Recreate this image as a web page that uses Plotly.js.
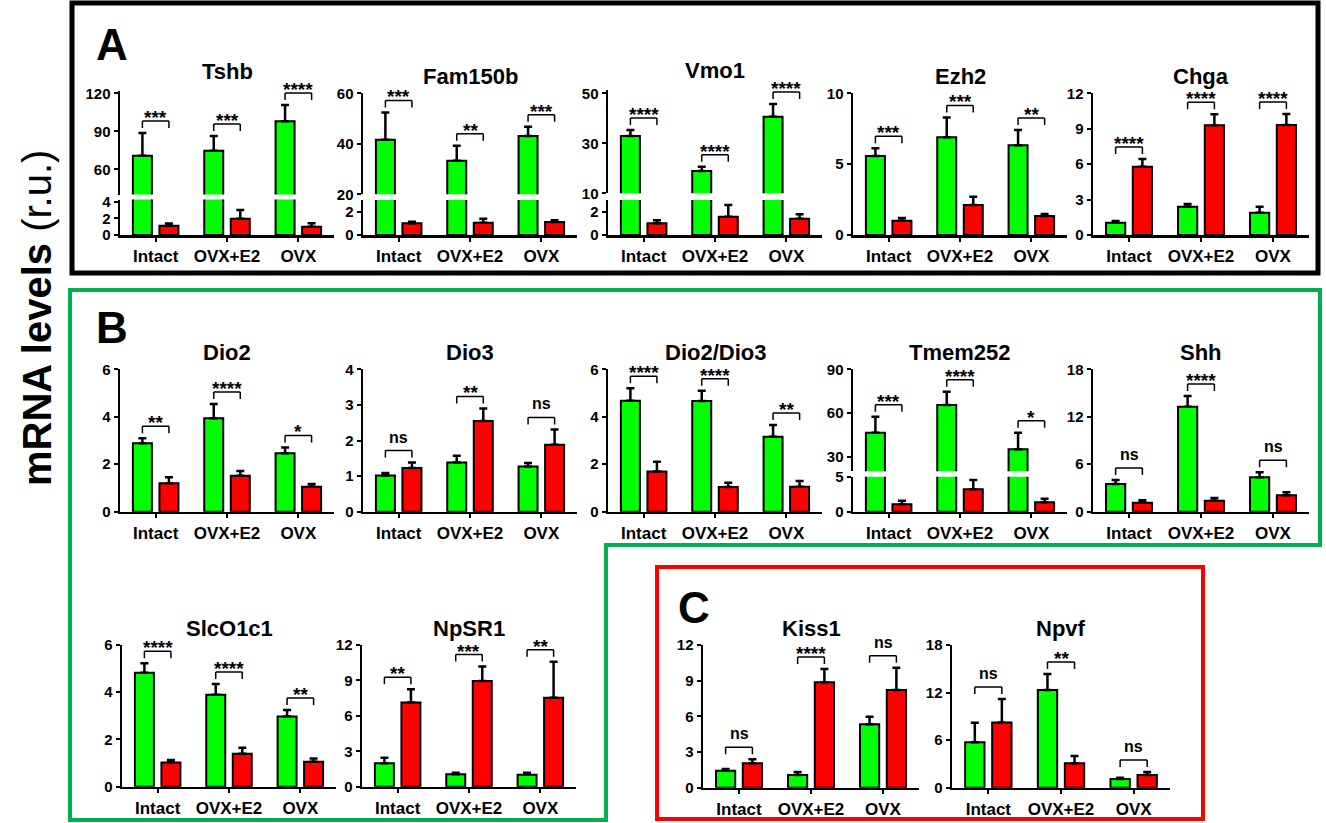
<!DOCTYPE html>
<html><head><meta charset="utf-8">
<script src="https://cdn.plot.ly/plotly-3.0.1.min.js"></script>
<style>html,body{margin:0;padding:0;background:#fff}</style>
</head><body><div id="chart" style="width:1326px;height:823px"></div>
<script>
// ---------------- DATA ----------------
const groups = ['Intact', 'OVX+E2', 'OVX'];
const genes = ['Tshb','Fam150b','Vmo1','Ezh2','Chga','Dio2','Dio3','Dio2/Dio3','Tmem252','Shh','SlcO1c1','NpSR1','Kiss1','Npvf'];
const greenMean = [
  [70.7, 74.7, 97.9],
  [41.6, 33.3, 43.1],
  [32.9, 18.9, 40.6],
  [5.58, 6.9, 6.33],
  [1.04, 2.4, 1.89],
  [2.88, 3.94, 2.46],
  [1.02, 1.38, 1.27],
  [4.68, 4.66, 3.16],
  [46.5, 65.5, 35.1],
  [3.5, 13.27, 4.35],
  [4.83, 3.89, 2.97],
  [1.98, 1.05, 1.02],
  [1.43, 1.07, 5.33],
  [5.72, 12.32, 1.1]
];
const greenErr = [
  [18, 11.6, 12.9],
  [10.8, 5.9, 3.7],
  [2.4, 1.7, 5.1],
  [0.54, 1.4, 1.08],
  [0.15, 0.23, 0.51],
  [0.21, 0.6, 0.25],
  [0.07, 0.19, 0.1],
  [0.52, 0.44, 0.49],
  [11, 9.1, 11.4],
  [0.5, 1.36, 0.63],
  [0.4, 0.46, 0.28],
  [0.48, 0.14, 0.17],
  [0.14, 0.25, 0.64],
  [2.48, 2.02, 0.16]
];
const redMean = [
  [1.1, 1.96, 1.0],
  [1.0, 1.06, 1.11],
  [1.0, 1.57, 1.4],
  [1.01, 2.12, 1.34],
  [5.79, 9.3, 9.32],
  [1.2, 1.52, 1.05],
  [1.23, 2.55, 1.88],
  [1.69, 1.04, 1.05],
  [1.06, 3.2, 1.34],
  [1.14, 1.39, 2.07],
  [1.02, 1.39, 1.06],
  [7.12, 8.96, 7.54],
  [2.05, 8.86, 8.21],
  [8.24, 3.07, 1.6]
];
const redErr = [
  [0.28, 1.04, 0.4],
  [0.14, 0.34, 0.15],
  [0.26, 1.0, 0.37],
  [0.19, 0.58, 0.14],
  [0.65, 0.93, 0.93],
  [0.25, 0.2, 0.12],
  [0.15, 0.35, 0.43],
  [0.41, 0.18, 0.24],
  [0.5, 1.33, 0.52],
  [0.3, 0.34, 0.38],
  [0.11, 0.26, 0.13],
  [1.13, 1.21, 3.05],
  [0.34, 1.12, 1.87],
  [2.94, 0.93, 0.38]
];
const sigLabels = [
  ['***', '***', '****'],
  ['***', '**', '***'],
  ['****', '****', '****'],
  ['***', '***', '**'],
  ['****', '****', '****'],
  ['**', '****', '*'],
  ['ns', '**', 'ns'],
  ['****', '****', '**'],
  ['***', '****', '*'],
  ['ns', '****', 'ns'],
  ['****', '****', '**'],
  ['**', '***', '**'],
  ['ns', '****', 'ns'],
  ['ns', '**', 'ns']
];
const yTickMax = [120, 60, 50, 10, 12, 6, 4, 6, 90, 18, 6, 12, 12, 18];
const yTickStep = [30, 20, 20, 5, 3, 2, 1, 2, 30, 6, 2, 3, 3, 6];

// ---------------- LAYOUT CONFIG (pixels) ----------------
const W = 1326, H = 823;
const FONT = 'Liberation Sans, Arial, Helvetica, sans-serif';
const GREEN = '#00ff00', RED = '#ff0000';
// x0 / width of each plot area, top / bottom pixel rows; brk = broken axis; pad = extra px above top tick
const cells = [
  {x0:120, w:214, top:93.3, bottom:235, pad:2.5, brk:{lowMax:4.26, lowTop:199.5, lowStep:2, upMin:40, upBottom:194.6, tick0:0}},
  {x0:363, w:214, top:93.3, bottom:235, brk:{lowMax:3, lowTop:200, lowStep:2, upMin:20, upBottom:194.3, tick0:0}},
  {x0:608, w:214, top:93.3, bottom:235, pad:3, brk:{lowMax:3, lowTop:200, lowStep:2, upMin:10, upBottom:193.3, tick0:10}},
  {x0:853, w:214, top:93.3, bottom:235},
  {x0:1093, w:216, top:93.3, bottom:235},
  {x0:120, w:214, top:369.3, bottom:511.7},
  {x0:363, w:214, top:369.3, bottom:511.7},
  {x0:608, w:214, top:369.3, bottom:511.7},
  {x0:853, w:214, top:369.3, bottom:511.7, brk:{lowMax:5, lowTop:476.7, lowStep:5, upMin:20, upBottom:471.3, tick0:0}},
  {x0:1093, w:216, top:369.3, bottom:511.7},
  {x0:122, w:214, top:645, bottom:786.7},
  {x0:362, w:214, top:645, bottom:786.7},
  {x0:703, w:216, top:645, bottom:787.7},
  {x0:952, w:218, top:645, bottom:787.7}
];

const px = x => x / W;
const py = y => 1 - y / H;

const data = [];
const layout = {
  width: W, height: H,
  margin: {l:0, r:0, t:0, b:0},
  paper_bgcolor: '#fff', plot_bgcolor: 'rgba(0,0,0,0)',
  showlegend: false,
  barmode: 'group',
  bargap: 0.256,
  bargroupgap: 0.284,
  font: {family: FONT, color: '#000'},
  shapes: [],
  annotations: []
};

const axisCommon = {
  showline: true, linecolor: '#000', linewidth: 2.5,
  ticks: 'outside', ticklen: 4, tickwidth: 2, tickcolor: '#000',
  showgrid: false, zeroline: false, fixedrange: true
};

let yCount = 0;
function nextY() { yCount++; return yCount; }
function axName(prefix, n) { return prefix + (n === 1 ? '' : n); }

const slotHalf = 0.186; // half distance between green & red bar centres (category units)

cells.forEach((c, i) => {
  const xn = i + 1;
  const xId = axName('x', xn);
  const xKey = axName('xaxis', xn);
  const lowN = nextY();
  const lowId = axName('y', lowN);
  const lowKey = axName('yaxis', lowN);
  const yAxes = [];
  const pad = c.pad || 0;

  layout[xKey] = Object.assign({}, axisCommon, {
    domain: [px(c.x0), px(c.x0 + c.w)],
    anchor: lowId, type: 'category', range: [-0.5, 2.5],
    tickangle: 0,
    tickfont: {family: FONT, size: 17, weight: 'bold', color: '#000'}
  });

  const yTickFont = {family: FONT, size: 15, weight: 'bold', color: '#000'};
  if (c.brk) {
    const b = c.brk;
    layout[lowKey] = Object.assign({}, axisCommon, {
      domain: [py(c.bottom), py(b.lowTop)], anchor: xId,
      range: [0, b.lowMax], tick0: 0, dtick: b.lowStep, tickfont: yTickFont
    });
    const upN = nextY();
    const upId = axName('y', upN);
    const upKey = axName('yaxis', upN);
    const pxPerUnit = (b.upBottom - c.top) / (yTickMax[i] - b.upMin);
    layout[upKey] = Object.assign({}, axisCommon, {
      domain: [py(b.upBottom), py(c.top - pad)], anchor: xId,
      range: [b.upMin, yTickMax[i] + pad / pxPerUnit], tick0: b.tick0, dtick: yTickStep[i], tickfont: yTickFont
    });
    yAxes.push({id: lowId, max: b.lowMax}, {id: upId, max: Infinity});
  } else {
    layout[lowKey] = Object.assign({}, axisCommon, {
      domain: [py(c.bottom), py(c.top)], anchor: xId,
      range: [0, yTickMax[i]], tick0: 0, dtick: yTickStep[i], tickfont: yTickFont
    });
    yAxes.push({id: lowId, max: Infinity});
  }

  yAxes.forEach(ya => {
    [[greenMean, greenErr, GREEN, 'Green'], [redMean, redErr, RED, 'Red']].forEach(([m, e, col, nm]) => {
      data.push({
        type: 'bar', x: groups, y: m[i], name: nm + ' ' + genes[i],
        xaxis: xId, yaxis: ya.id,
        marker: {color: col, line: {color: '#000', width: 2}},
        error_y: {type: 'data', symmetric: false, array: e[i], arrayminus: e[i].map(() => 0),
                  color: '#000', thickness: 2.5, width: 4},
        hoverinfo: 'y'
      });
    });
  });

  // title
  const topAxisId = yAxes[yAxes.length - 1].id;
  layout.annotations.push({
    text: genes[i], xref: xId + ' domain', yref: topAxisId + ' domain',
    x: 0.5, y: 1, xanchor: 'center', yanchor: 'middle', yshift: 17 + pad, showarrow: false,
    font: {family: FONT, size: 22, weight: 'bold', color: '#000'}
  });

  // significance brackets
  for (let g = 0; g < groups.length; g++) {
    const topVal = Math.max(greenMean[i][g] + greenErr[i][g], redMean[i][g] + redErr[i][g]);
    let ya = yAxes[0];
    if (yAxes.length > 1 && topVal > yAxes[0].max) ya = yAxes[1];
    const gx = g - slotHalf, rx = g + slotHalf;
    const lift = 12, leg = 7;
    const base = {type: 'line', xref: xId, yref: ya.id, ysizemode: 'pixel', yanchor: topVal,
                  line: {color: '#000', width: 1.5}, layer: 'above'};
    layout.shapes.push(Object.assign({}, base, {x0: gx, x1: rx, y0: lift, y1: lift}));
    layout.shapes.push(Object.assign({}, base, {x0: gx, x1: gx, y0: lift, y1: lift - leg}));
    layout.shapes.push(Object.assign({}, base, {x0: rx, x1: rx, y0: lift, y1: lift - leg}));
    const lab = sigLabels[i][g];
    const isStar = lab.indexOf('*') >= 0;
    layout.annotations.push({
      text: lab, xref: xId, yref: ya.id, x: g, y: topVal,
      xanchor: 'center', yanchor: 'bottom', showarrow: false,
      yshift: lift + (isStar ? -9 : 3),
      font: {family: FONT, size: isStar ? 19 : 16, weight: 'bold', color: '#000'}
    });
  }
});

// panel boxes
layout.shapes.push({type: 'rect', xref: 'paper', yref: 'paper', x0: px(72), x1: px(1318), y0: py(3), y1: py(273),
  line: {color: '#000', width: 5}, fillcolor: 'rgba(0,0,0,0)', layer: 'below'});
layout.shapes.push({type: 'path', xref: 'paper', yref: 'paper',
  path: `M ${px(70)} ${py(290)} L ${px(1320)} ${py(290)} L ${px(1320)} ${py(545)} L ${px(606)} ${py(545)} L ${px(606)} ${py(820)} L ${px(70)} ${py(820)} Z`,
  line: {color: '#00b050', width: 4}, fillcolor: 'rgba(0,0,0,0)', layer: 'below'});
layout.shapes.push({type: 'rect', xref: 'paper', yref: 'paper', x0: px(657), x1: px(1203), y0: py(567), y1: py(819),
  line: {color: '#ff0000', width: 4}, fillcolor: 'rgba(0,0,0,0)', layer: 'below'});

// panel letters
[['A', 112, 45], ['B', 112, 327], ['C', 694, 607]].forEach(([t, x, y]) => {
  layout.annotations.push({text: t, xref: 'paper', yref: 'paper', x: px(x), y: py(y),
    xanchor: 'center', yanchor: 'middle', showarrow: false,
    font: {family: FONT, size: 44, weight: 'bold', color: '#000'}});
});

// global y label
layout.annotations.push({text: '<b>mRNA levels</b> (r.u.)', xref: 'paper', yref: 'paper',
  x: px(37), y: py(318), xanchor: 'center', yanchor: 'middle', textangle: -90, showarrow: false,
  font: {family: FONT, size: 40, color: '#000'}});

Plotly.newPlot('chart', data, layout, {staticPlot: true, displayModeBar: false});
</script></body></html>
